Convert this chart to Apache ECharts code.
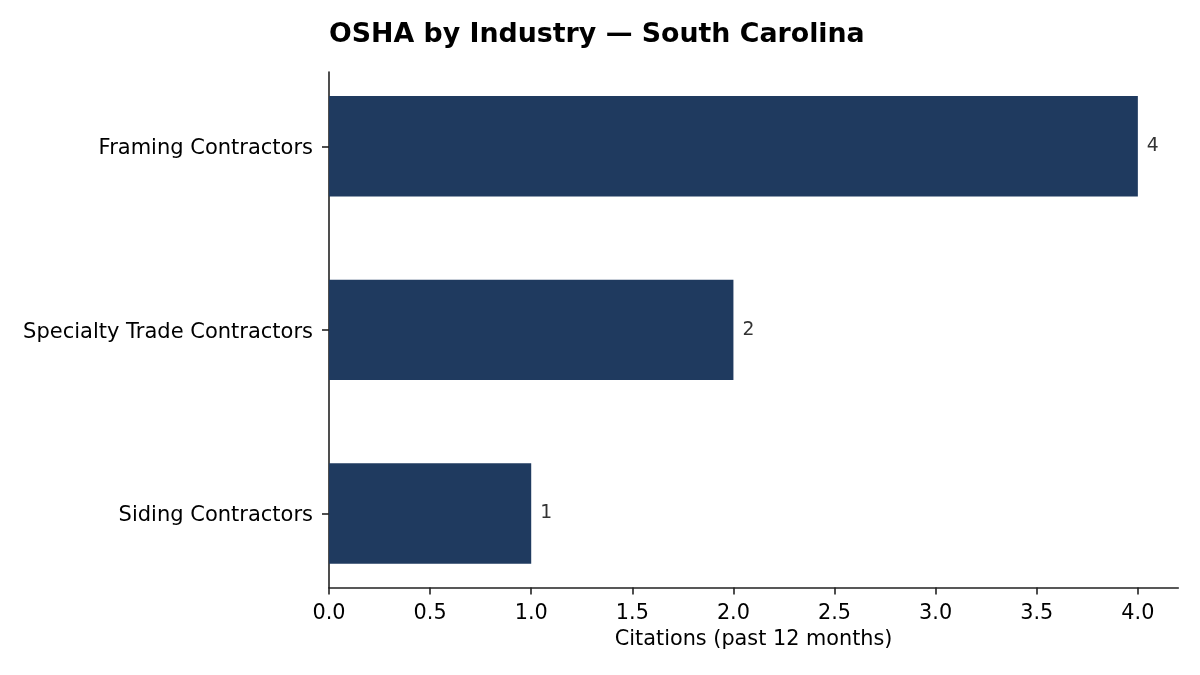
<!DOCTYPE html>
<html>
<head>
<meta charset="utf-8">
<title>OSHA by Industry — South Carolina</title>
<script src="https://cdn.jsdelivr.net/npm/echarts@6/dist/echarts.min.js"></script>
<style>
  html, body { margin: 0; padding: 0; background: #fff; }
  #chart { width: 1200px; height: 675px; }
</style>
</head>
<body>
<div id="chart"></div>
<script>
const industries = ["Framing Contractors", "Specialty Trade Contractors", "Siding Contractors"];
const citations = [4, 2, 1];
const xTicks = [0, 0.5, 1, 1.5, 2, 2.5, 3, 3.5, 4];
const xMax = 4.2;

const FONT = "DejaVu Sans";
const AXIS_COLOR = "#222";
const BAR_COLOR = "#1f3a5f";

const chart = echarts.init(document.getElementById("chart"), null, { renderer: "canvas" });

// grid 0 holds the bars (category bands sized like matplotlib's margins),
// grid 1 holds the visible spines and the x ticks
chart.setOption({
  backgroundColor: "#fff",
  animation: false,
  textStyle: { fontFamily: FONT },
  title: {
    text: "OSHA by Industry — South Carolina",
    left: 329,
    top: 22,
    padding: 0,
    textStyle: { fontFamily: FONT, fontSize: 26.8, fontWeight: "bold", color: "#000" },
  },
  grid: [
    { left: 329, right: 21.7, top: 54.5, bottom: 69.7 },
    { left: 329, right: 21.7, top: 72, bottom: 87.5 },
  ],
  xAxis: [
    { gridIndex: 0, type: "value", min: 0, max: xMax, show: false },
    {
      gridIndex: 1,
      type: "value",
      min: 0,
      max: xMax,
      axisLine: { show: true, lineStyle: { color: AXIS_COLOR, width: 1.6 } },
      axisTick: { show: true, length: 7, customValues: xTicks, lineStyle: { color: AXIS_COLOR, width: 1.6 } },
      axisLabel: {
        customValues: xTicks,
        formatter: (v) => v.toFixed(1),
        margin: 16,
        fontFamily: FONT,
        fontSize: 20.8,
        color: "#000",
      },
      splitLine: { show: false },
      name: "Citations (past 12 months)",
      nameLocation: "middle",
      nameGap: 42,
      nameTextStyle: { fontFamily: FONT, fontSize: 20.8, color: "#000" },
    },
  ],
  yAxis: [
    {
      gridIndex: 0,
      type: "category",
      inverse: true,
      data: industries,
      axisLine: { show: false },
      axisTick: { show: true, length: 7, alignWithLabel: true, lineStyle: { color: AXIS_COLOR, width: 1.6 } },
      axisLabel: {
        margin: 16,
        formatter: (v) => `{l|${v}}`,
        rich: { l: { fontFamily: FONT, fontSize: 21, color: "#000", padding: [5, 0, 0, 0] } },
      },
      splitLine: { show: false },
    },
    {
      gridIndex: 1,
      type: "value",
      min: 0,
      max: 1,
      axisLine: { show: true, lineStyle: { color: AXIS_COLOR, width: 1.6 } },
      axisTick: { show: false },
      axisLabel: { show: false },
      splitLine: { show: false },
    },
  ],
  series: [
    {
      type: "bar",
      xAxisIndex: 0,
      yAxisIndex: 0,
      data: citations,
      barWidth: 100.4,
      itemStyle: { color: BAR_COLOR },
      label: {
        show: true,
        position: "right",
        distance: 9,
        fontFamily: FONT,
        fontSize: 18.75,
        color: "#333",
      },
    },
  ],
});
</script>
</body>
</html>
